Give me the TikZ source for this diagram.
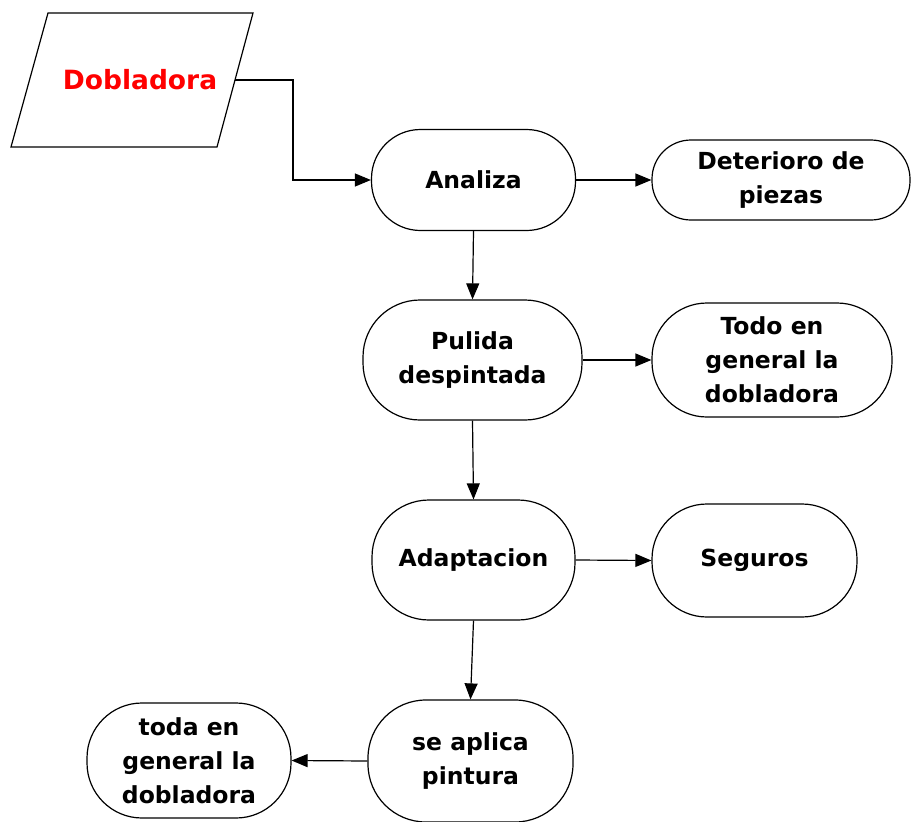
\documentclass[tikz,border=0pt]{standalone}
\usepackage{fontspec}
\setmainfont{DejaVu Sans}
\usetikzlibrary{shapes,arrows.meta}

\tikzset{
    paso/.style={draw, line width=1.2pt, align=center, inner sep=0pt,
        font=\bfseries\fontsize{23.5}{34}\selectfont},
    entrada/.style={text=red, inner sep=0pt, font=\bfseries\fontsize{26.5}{32}\selectfont},
    flecha/.style={-{Triangle[length=16pt,width=13pt]}, line width=1.2pt},
}

\begin{document}
\begin{tikzpicture}[x=1pt, y=-1pt]
            \useasboundingbox (0,0) rectangle (911,822);

            % Entrada
            \draw[line width=1.2pt] (48,13) -- (253,13) -- (217,147) -- (11,147) -- cycle;
            \node[entrada] (dobladora) at (140,80) {Dobladora};
            \coordinate (salida) at (235,80);

            % Pasos
            \node[paso, minimum width=204pt, minimum height=101pt, rounded corners=49pt] (analiza) at (473.5,180) {Analiza};
            \node[paso, minimum width=219pt, minimum height=120pt, rounded corners=57pt] (pulida) at (472.5,360) {Pulida\\despintada};
            \node[paso, minimum width=203pt, minimum height=120pt, rounded corners=57pt] (adaptacion) at (473.5,560) {Adaptacion};
            \node[paso, minimum width=205pt, minimum height=122pt, rounded corners=58pt] (aplica) at (470.5,761) {se aplica\\pintura};

            % Resultados
            \node[paso, minimum width=258pt, minimum height=80pt, rounded corners=39pt] (deterioro) at (781,180) {Deterioro de\\piezas};
            \node[paso, minimum width=240pt, minimum height=114pt, rounded corners=55pt] (todo) at (772,360) {Todo en\\general la\\dobladora};
            \node[paso, minimum width=205pt, minimum height=113pt, rounded corners=55pt] (seguros) at (754.5,560.5) {Seguros};
            \node[paso, minimum width=204pt, minimum height=115pt, rounded corners=55pt] (toda) at (189,760.5) {toda en\\general la\\dobladora};

            % Flechas
            \coordinate (codo) at (293,80);
            \draw[flecha] (salida) -- (codo) |- (analiza.west);
            \draw[flecha] (analiza.south) -- (pulida.north);
            \draw[flecha] (pulida.south) -- (adaptacion.north);
            \draw[flecha] (adaptacion.south) -- (aplica.north);
            \draw[flecha] (analiza.east) -- (deterioro.west);
            \draw[flecha] (pulida.east) -- (todo.west);
            \draw[flecha] (adaptacion.east) -- (seguros.west);
            \draw[flecha] (aplica.west) -- (toda.east);
        \end{tikzpicture}
\end{document}
